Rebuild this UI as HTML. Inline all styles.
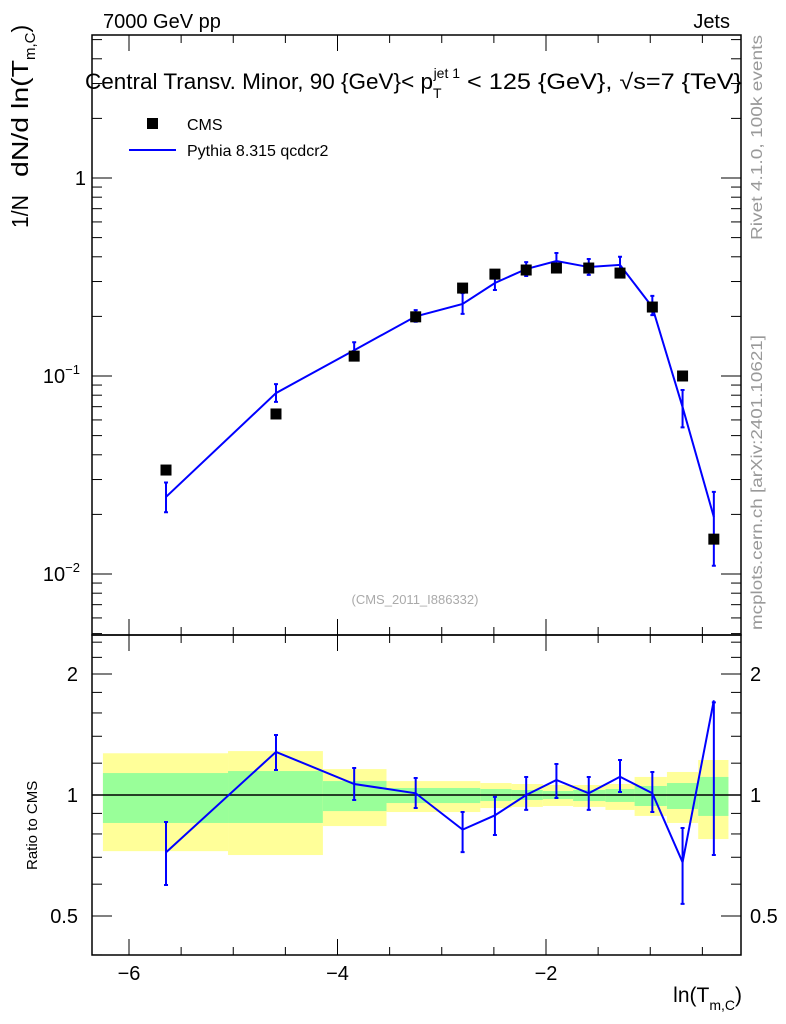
<!DOCTYPE html>
<html><head><meta charset="utf-8"><style>
body{margin:0;background:#fff;}
svg{display:block;font-family:"Liberation Sans",sans-serif;}
</style></head><body>
<svg id="c" width="786" height="1024" viewBox="0 0 786 1024">
<g id="bands"></g>
<g id="axes"></g>
<g id="series"></g>
<text x="103" y="28" font-size="20">7000 GeV pp</text>
<text x="730" y="28" font-size="20" text-anchor="end">Jets</text>
<text x="85" y="89" font-size="22"><tspan textLength="348" lengthAdjust="spacingAndGlyphs">Central Transv. Minor, 90 {GeV}&lt; p</tspan><tspan font-size="14" dy="9">T</tspan><tspan font-size="14" dx="-8" dy="-20">jet 1</tspan><tspan dy="11" textLength="282" lengthAdjust="spacingAndGlyphs"> &lt; 125 {GeV}, √s=7 {TeV}</tspan></text>
<g>
<rect x="147" y="118" width="11" height="11" fill="#000"/>
<text x="187" y="130" font-size="16">CMS</text>
<line x1="129" y1="150" x2="176" y2="150" stroke="#0000ff" stroke-width="2"/>
<text x="187" y="156" font-size="16">Pythia 8.315 qcdcr2</text>
</g>
<text x="415" y="604" font-size="13" fill="#aaa" text-anchor="middle">(CMS_2011_I886332)</text>
<text transform="translate(762,240) rotate(-90)" font-size="16" fill="#999" textLength="205" lengthAdjust="spacingAndGlyphs">Rivet 4.1.0,  100k events</text>
<text transform="translate(762,630) rotate(-90)" font-size="16" fill="#999" textLength="295" lengthAdjust="spacingAndGlyphs">mcplots.cern.ch [arXiv:2401.10621]</text>
<text transform="translate(28,228) rotate(-90)" font-size="23"><tspan x="0" textLength="33" lengthAdjust="spacingAndGlyphs">1/N</tspan><tspan x="51" textLength="117" lengthAdjust="spacingAndGlyphs">dN/d ln(T</tspan><tspan font-size="15" dy="7">m,C</tspan><tspan dy="-7">)</tspan></text>
<text transform="translate(37,870) rotate(-90)" font-size="15">Ratio to CMS</text>
<text x="742" y="1002" font-size="21" text-anchor="end">ln(T<tspan font-size="14" dy="8">m,C</tspan><tspan dy="-8">)</tspan></text>
</svg>
<script>
const xs=[-5.645,-4.59,-3.84,-3.25,-2.80,-2.49,-2.19,-1.90,-1.59,-1.29,-0.98,-0.69,-0.39];
const cms=[0.0335,0.0643,0.126,0.199,0.278,0.327,0.343,0.351,0.351,0.331,0.223,0.100,0.0150];
const mc=[0.0245,0.082,0.135,0.200,0.231,0.295,0.347,0.381,0.355,0.364,0.223,0.0697,0.0194];
const mcHi=[0.029,0.091,0.148,0.215,0.262,0.32,0.376,0.418,0.39,0.40,0.254,0.085,0.026];
const mcLo=[0.0205,0.074,0.123,0.188,0.206,0.272,0.32,0.343,0.324,0.328,0.203,0.055,0.011];
const ratio=[0.72,1.28,1.065,1.01,0.82,0.89,1.0,1.09,1.01,1.11,1.01,0.68,1.72];
const ratioHi=[0.857,1.41,1.167,1.102,0.907,0.989,1.109,1.194,1.109,1.222,1.141,0.828,1.70];
const ratioLo=[0.597,1.154,0.972,0.928,0.721,0.795,0.918,0.983,0.918,1.017,0.907,0.536,0.709];
const binEdges=[-6.25,-5.05,-4.14,-3.53,-2.63,-2.33,-2.03,-1.74,-1.43,-1.15,-0.84,-0.54,-0.25];
const yelHi=[1.27,1.286,1.16,1.083,1.071,1.065,1.059,1.059,1.065,1.109,1.141,1.222];
const yelLo=[0.725,0.709,0.837,0.907,0.928,0.934,0.939,0.934,0.918,0.887,0.852,0.777];
const grnHi=[1.134,1.147,1.083,1.041,1.035,1.029,1.023,1.029,1.035,1.053,1.071,1.109];
const grnLo=[0.852,0.852,0.912,0.955,0.966,0.972,0.977,0.966,0.961,0.939,0.923,0.887];
const xTicks=[-6,-4,-2];
const xTickLabels=["−6","−4","−2"];
const yTicks=[0.01,0.1,1];
const rTicks=[0.5,1,2];
const rTickLabels=["0.5","1","2"];

const L=92,R=741,T1=35,B1=635,T2=635,B2=955;
const X=v=>129+(v+6)*104.25;
const Y=v=>178-198*Math.log10(v);
const RY=v=>795-121*Math.log2(v);
const NS="http://www.w3.org/2000/svg";
function mk(tag,attrs,parent){const e=document.createElementNS(NS,tag);for(const k in attrs)e.setAttribute(k,attrs[k]);document.getElementById(parent).appendChild(e);return e;}

for(let i=0;i<yelHi.length;i++){
 let r=mk('rect',{x:X(binEdges[i]),y:RY(yelHi[i]),width:X(binEdges[i+1])-X(binEdges[i]),height:RY(yelLo[i])-RY(yelHi[i]),fill:'#ffff99'},'bands');
 
 
 let g=mk('rect',{x:X(binEdges[i]),y:RY(grnHi[i]),width:X(binEdges[i+1])-X(binEdges[i]),height:RY(grnLo[i])-RY(grnHi[i]),fill:'#99ff99'},'bands');
 
 
}
for(const [t,b] of [[T1,B1],[T2,B2]]){
 let f=mk('rect',{x:L,y:t,width:R-L,height:b-t,fill:'none',stroke:'#000','stroke-width':1.5},'axes');
 
 
}
let one=mk('line',{x1:L,x2:R,y1:RY(1),y2:RY(1),stroke:'#000','stroke-width':1.5},'axes');


for(let v=-6;v<=-0.4;v+=0.5){
 const major=Math.abs(v-Math.round(v/2)*2)<1e-6;const len=major?16:8;
 for(const [t,b] of [[T1,B1],[T2,B2]]){
  mk('line',{x1:X(v),x2:X(v),y1:b,y2:b-len,stroke:'#000'},'axes');
  mk('line',{x1:X(v),x2:X(v),y1:t,y2:t+len,stroke:'#000'},'axes');
 }
}
xTicks.forEach((v,i)=>{let t=mk('text',{x:X(v),y:980,'font-size':20,'text-anchor':'middle'},'axes');t.textContent=xTickLabels[i];
 
 });
for(let d=-3;d<=0;d++){for(let m=1;m<=9;m++){const v=m*Math.pow(10,d);const y=Y(v);if(y<T1||y>B1)continue;const len=m==1?20:10;
 mk('line',{x1:L,x2:L+len,y1:y,y2:y,stroke:'#000'},'axes');mk('line',{x1:R,x2:R-len,y1:y,y2:y,stroke:'#000'},'axes');}}
const yl=[["10",-2],["10",-1],["1",null]];
yTicks.forEach((v,i)=>{let t=mk('text',{x:86,y:Y(v)+7,'font-size':20,'text-anchor':'end'},'axes');
 if(yl[i][1]===null)t.textContent='1';else{t.innerHTML='10<tspan font-size="13" dy="-9">−'+(-yl[i][1])+'</tspan>';t.setAttribute('x',80);}
 
 });
for(const v of [0.4,0.5,0.6,0.7,0.8,0.9,1,1.2,1.4,1.6,1.8,2,2.2,2.4]){const y=RY(v);if(y<T2||y>B2)continue;const len=(v==0.5||v==1||v==2)?20:10;
 mk('line',{x1:L,x2:L+len,y1:y,y2:y,stroke:'#000'},'axes');mk('line',{x1:R,x2:R-len,y1:y,y2:y,stroke:'#000'},'axes');}
rTicks.forEach((v,i)=>{for(const [x,a] of [[78,'end'],[750,'start']]){let t=mk('text',{x:x,y:RY(v)+7,'font-size':20,'text-anchor':a},'axes');t.textContent=rTickLabels[i];
 
 }});
let p=mk('polyline',{points:xs.map((x,i)=>X(x)+','+Y(mc[i])).join(' '),fill:'none',stroke:'#0000ff','stroke-width':2},'series');


xs.forEach((x,i)=>{let e=mk('path',{d:`M${X(x)},${Y(mcHi[i])}V${Y(mcLo[i])}M${X(x)-2},${Y(mcHi[i])}h4M${X(x)-2},${Y(mcLo[i])}h4`,stroke:'#0000ff','stroke-width':2,fill:'none'},'series');
 
 });
xs.forEach((x,i)=>{let r=mk('rect',{x:X(x)-5.5,y:Y(cms[i])-5.5,width:11,height:11,fill:'#000'},'series');
 
 });
let rp=mk('polyline',{points:xs.map((x,i)=>X(x)+','+RY(ratio[i])).join(' '),fill:'none',stroke:'#0000ff','stroke-width':2},'series');


xs.forEach((x,i)=>{let e=mk('path',{d:`M${X(x)},${RY(ratioHi[i])}V${RY(ratioLo[i])}M${X(x)-2},${RY(ratioHi[i])}h4M${X(x)-2},${RY(ratioLo[i])}h4`,stroke:'#0000ff','stroke-width':2,fill:'none'},'series');
 
 });
</script>
</body></html>
